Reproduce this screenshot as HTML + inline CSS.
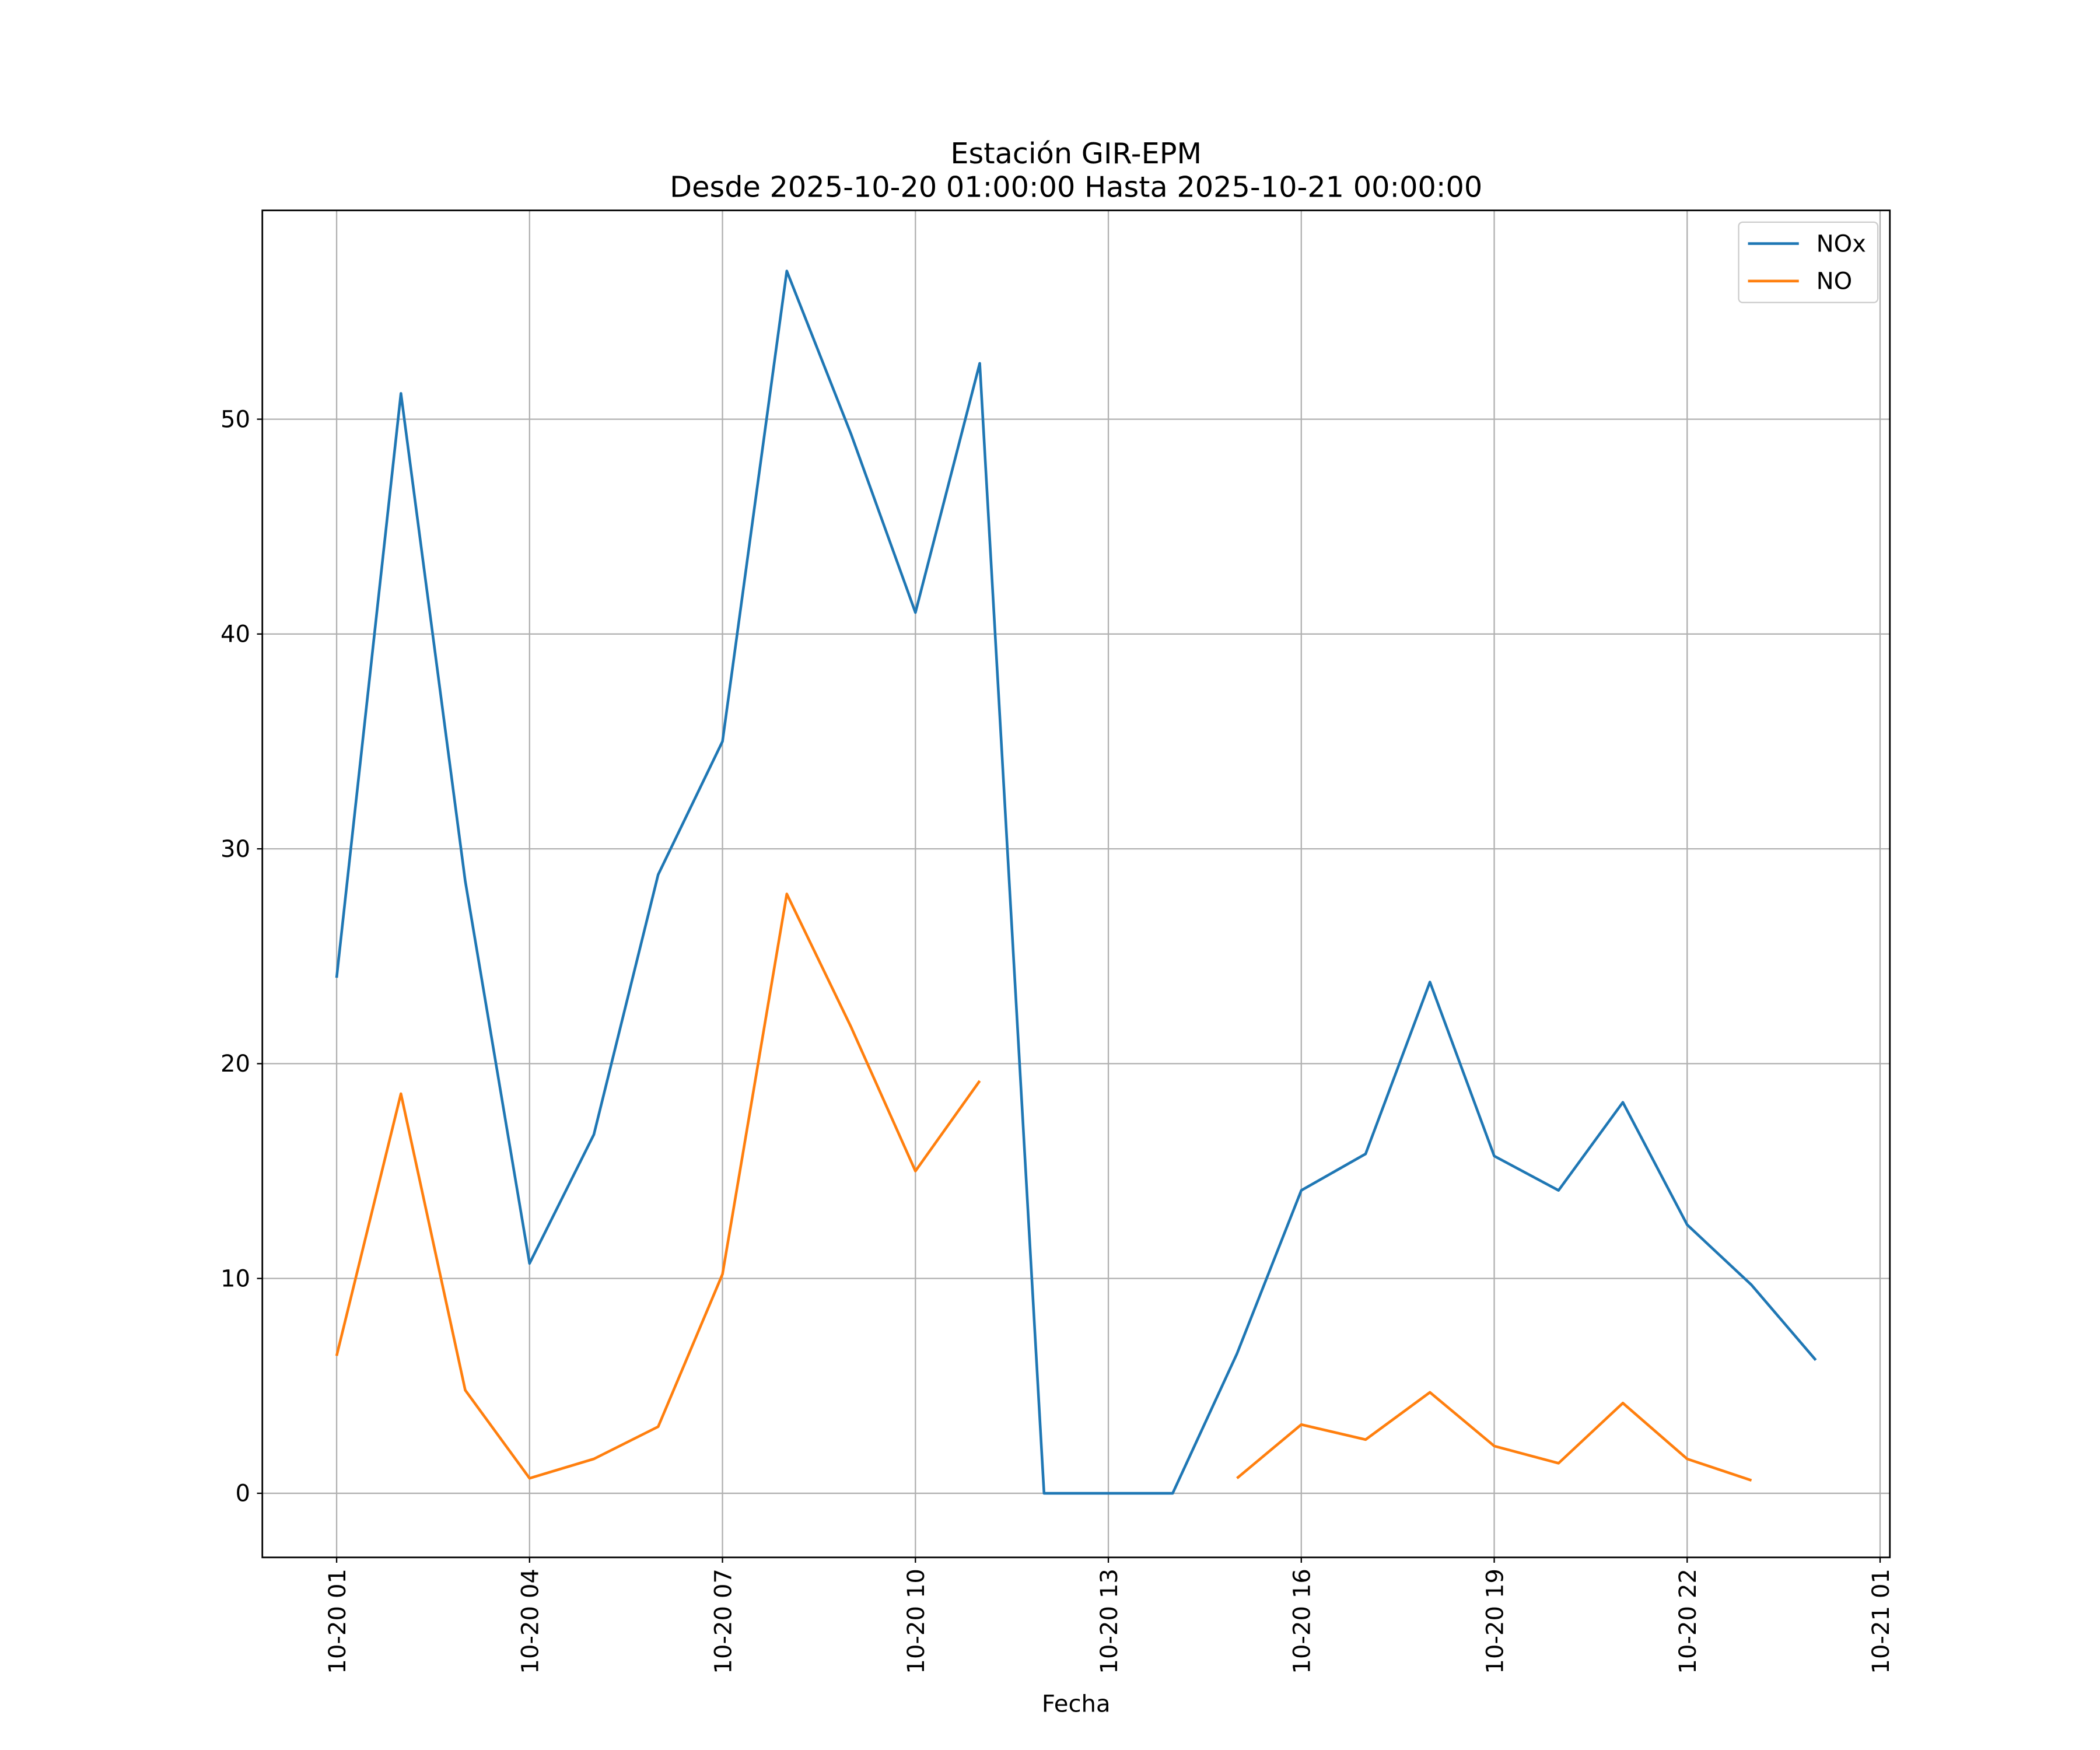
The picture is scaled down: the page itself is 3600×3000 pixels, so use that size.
<!DOCTYPE html>
<html><head><meta charset="utf-8"><style>html,body{margin:0;padding:0;background:#fff}svg{display:block}text{font-family:"DejaVu Sans","Liberation Sans",sans-serif;fill:#000}</style></head>
<body>
<svg id="chart" width="3600" height="3000" viewBox="0 0 1569 1307.5" preserveAspectRatio="none" xmlns="http://www.w3.org/2000/svg">
<rect width="1569" height="1307.5" fill="#fff"/>
<text x="804" y="122" font-size="21.5" text-anchor="middle">Estación GIR-EPM</text>
<text x="804" y="147" font-size="21.5" text-anchor="middle">Desde 2025-10-20 01:00:00 Hasta 2025-10-21 00:00:00</text>
<g id="grid"></g>
<g id="series"></g>
<rect x="196" y="157.2" width="1216" height="1006.4" fill="none" stroke="#000" stroke-width="1.2"/>
<g id="ticks"></g>
<text x="804" y="1279" font-size="17.5" text-anchor="middle">Fecha</text>
<g>
<rect x="1299" y="166" width="104" height="60" rx="3" fill="#fff" stroke="#ccc"/>
<line x1="1306" y1="182" x2="1344" y2="182" stroke="#1f77b4" stroke-width="2"/>
<text x="1357" y="188" font-size="17.5">NOx</text>
<line x1="1306" y1="210" x2="1344" y2="210" stroke="#ff7f0e" stroke-width="2"/>
<text x="1357" y="216" font-size="17.5">NO</text>
</g>
</svg>
<script>
const hours = [1,2,3,4,5,6,7,8,9,10,11,12,13,14,15,16,17,18,19,20,21,22,23,24];
const noxValues = [24.0,51.2,28.5,10.7,16.7,28.8,35.0,56.9,49.3,41.0,52.6,0,0,0,6.5,14.1,15.8,23.8,15.7,14.1,18.2,12.5,9.7,6.2];
const noValues = [6.4,18.6,4.8,0.7,1.6,3.1,10.2,27.9,21.7,15.0,19.2,null,null,null,0.7,3.2,2.5,4.7,2.2,1.4,4.2,1.6,0.6,null];
const yTicks = [0,10,20,30,40,50];
const xTickHours = [1,4,7,10,13,16,19,22,25];
const xTickLabels = ["10-20 01","10-20 04","10-20 07","10-20 10","10-20 13","10-20 16","10-20 19","10-20 22","10-21 01"];

const NS="http://www.w3.org/2000/svg";
function xs(h){return 251.5+(h-1)*(1153.2/24);}
function ys(v){return 1115.7-v*16.05;}
function mk(tag,attrs,parent){const e=document.createElementNS(NS,tag);for(const k in attrs)e.setAttribute(k,attrs[k]);parent.appendChild(e);return e;}
const grid=document.getElementById('grid'),ticks=document.getElementById('ticks'),series=document.getElementById('series');
yTicks.forEach(v=>{
  const y=ys(v);
  const g=mk('line',{x1:196,x2:1412,y1:y,y2:y,stroke:'#b0b0b0','stroke-width':1},grid);
  
  
  mk('line',{x1:192,x2:196,y1:y,y2:y,stroke:'#000'},ticks);
  const t=mk('text',{x:187,y:y+6,'font-size':17.5,'text-anchor':'end'},ticks);
  t.textContent=v;
  
  
});
xTickHours.forEach((h,i)=>{
  const x=xs(h);
  const g=mk('line',{x1:x,x2:x,y1:157.2,y2:1163.6,stroke:'#b0b0b0','stroke-width':1},grid);
  
  
  mk('line',{x1:x,x2:x,y1:1163.6,y2:1167.6,stroke:'#000'},ticks);
  const t=mk('text',{x:0,y:0,'font-size':17.5,'text-anchor':'end',transform:`translate(${x+6.5},1172) rotate(-90)`},ticks);
  t.textContent=xTickLabels[i];
  
  
});
function drawSeries(vals,color,name){
  let d='',pen=false;
  vals.forEach((v,i)=>{
    if(v===null){pen=false;return;}
    d+=(pen?'L':'M')+xs(hours[i]).toFixed(2)+' '+ys(v).toFixed(2)+' ';pen=true;
  });
  const p=mk('path',{d:d,fill:'none',stroke:color,'stroke-width':2,'stroke-linejoin':'round'},series);
  
  
}
drawSeries(noxValues,'#1f77b4','nox-line');
drawSeries(noValues,'#ff7f0e','no-line');
</script>
</body></html>
